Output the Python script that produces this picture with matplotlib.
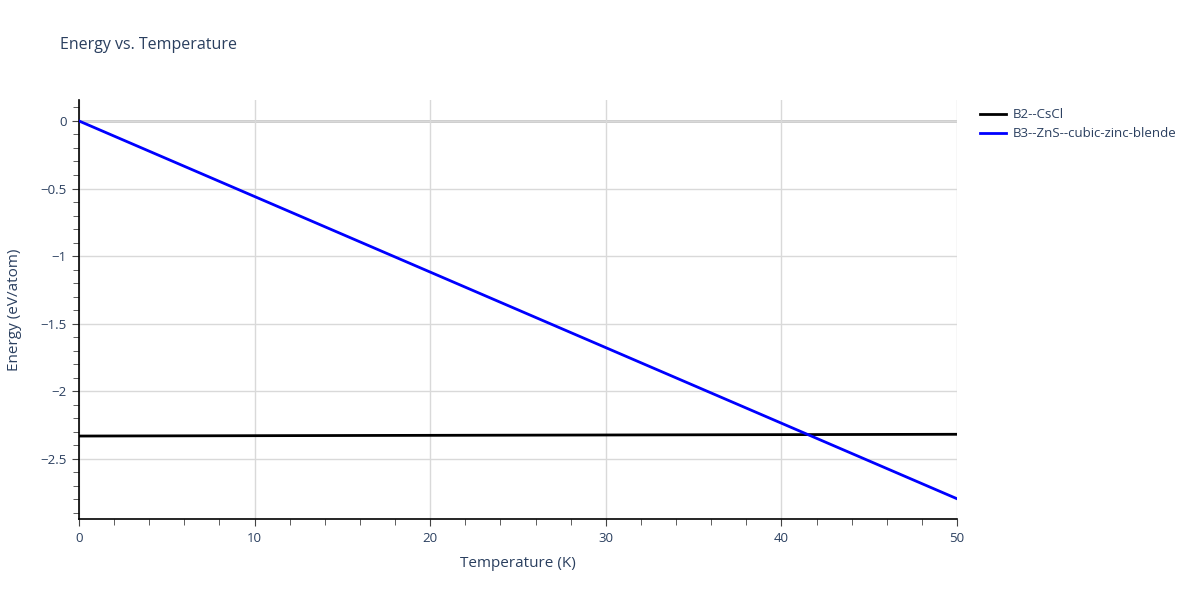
import numpy as np
import matplotlib.pyplot as plt
from matplotlib.ticker import MultipleLocator

# data
temps = [0, 50]
e_b2 = [-2.332, -2.319]
e_b3 = [0.0, -2.796]
names = ["B2--CsCl", "B3--ZnS--cubic-zinc-blende"]
colors = ["black", "blue"]

txt = "#2a3f5f"
plt.rcParams['font.family'] = ['Open Sans', 'DejaVu Sans']

fig = plt.figure(figsize=(12, 6), dpi=100)
ax = fig.add_axes([0.0658, 0.135, 0.7317, 0.6983])

ax.plot(temps, e_b2, color=colors[0], lw=2, label=names[0], zorder=3)
ax.plot(temps, e_b3, color=colors[1], lw=2, label=names[1], zorder=3)

ax.set_xlim(0, 50)
ax.set_ylim(-2.946, 0.155)
ax.xaxis.set_major_locator(MultipleLocator(10))
ax.xaxis.set_minor_locator(MultipleLocator(2))
ax.yaxis.set_major_locator(MultipleLocator(0.5))
ax.yaxis.set_minor_locator(MultipleLocator(0.1))
ax.grid(True, which='major', color='#d9d9d9', lw=1, zorder=0)
ax.axhline(0, color='#c8c8c8', lw=2, zorder=1)

for s in ['top', 'right']:
    ax.spines[s].set_visible(False)
for s in ['left', 'bottom']:
    ax.spines[s].set_color('black')
    ax.spines[s].set_linewidth(1.2)

ax.tick_params(which='major', length=5, color='#444444', labelcolor=txt, labelsize=9.5, pad=4)
ax.tick_params(which='minor', length=4, color='#444444')

ax.yaxis.set_major_formatter(plt.FuncFormatter(lambda v, p: ('%g' % round(v, 2)).replace('-', '\u2212')))

ax.set_xlabel("Temperature (K)", color=txt, fontsize=11, labelpad=8)
ax.set_ylabel("Energy (eV/atom)", color=txt, fontsize=11, labelpad=13)

fig.text(0.05, 0.925, "Energy vs. Temperature", color=txt, fontsize=11.5, va='center')

ax.legend(loc='upper left', bbox_to_anchor=(1.02, 0.993), frameon=False, fontsize=9.5,
          labelcolor=txt, handlelength=2.0, handletextpad=0.5, borderaxespad=0,
          labelspacing=0.45)

fig.savefig("out.png", dpi=100)
